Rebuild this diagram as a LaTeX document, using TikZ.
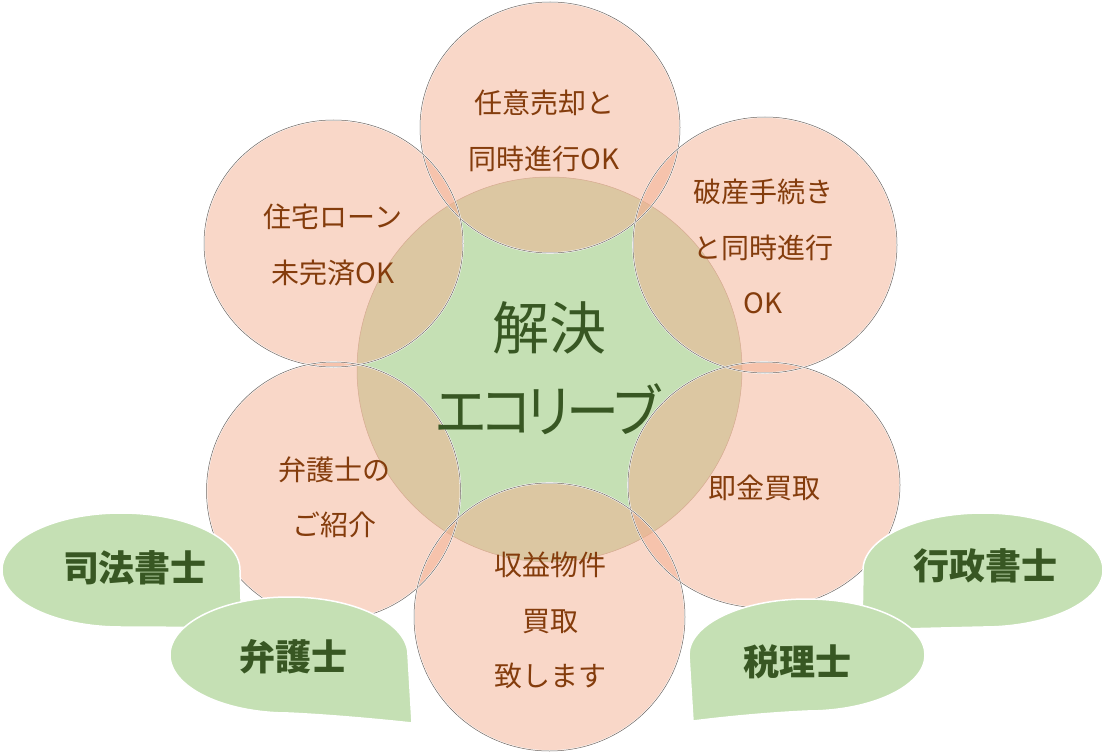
\documentclass[tikz,border=0pt]{standalone}
\usepackage{fontspec}
\newfontfamily\jp{Noto Sans CJK JP}
\definecolor{pinkc}{RGB}{243,175,145}
\definecolor{greenc}{RGB}{197,224,180}
\definecolor{browntxt}{RGB}{132,60,12}
\definecolor{greentxt}{RGB}{56,87,35}
\definecolor{edgec}{RGB}{110,100,95}
\definecolor{centeredge}{RGB}{185,165,145}
\begin{document}
\begin{tikzpicture}[x=1pt,y=-1pt,
  petalfill/.style={fill=pinkc, fill opacity=0.5},
  petaledge/.style={draw=edgec, line width=0.5pt},
  petalglow/.style={draw=white, line width=1.6pt},
  bubble/.style={fill=greenc, draw=white, line width=1.5pt},
  otext/.style={text=browntxt, align=center, inner sep=0pt, font=\jp\fontsize{28}{55.5}\selectfont},
  ctext/.style={text=greentxt, align=center, inner sep=0pt, font=\jp\fontsize{57}{83}\selectfont},
  btext/.style={text=greentxt, inner sep=0pt, font=\jp\bfseries\fontsize{36}{40}\selectfont}]
\useasboundingbox (0,0) rectangle (1104,754);
% centre circle
\path[fill=greenc, draw=centeredge, line width=0.5pt] (549.5,369.5) circle[radius=192.5];
% petals
\foreach \cx/\cy/\rx/\ry in {550/127.5/130/125.5, 333.5/243.5/129.5/123.5, 765/245/132/128, 333.5/491/127/129, 764/485/136/123, 549.5/617/135.5/134}{
  \path[petalfill] (\cx,\cy) ellipse[x radius=\rx, y radius=\ry];
}
\foreach \cx/\cy/\rx/\ry in {550/127.5/130/125.5, 333.5/243.5/129.5/123.5, 765/245/132/128, 333.5/491/127/129, 764/485/136/123, 549.5/617/135.5/134}{
  \path[petalglow] (\cx,\cy) ellipse[x radius=\rx, y radius=\ry];
  \path[petaledge] (\cx,\cy) ellipse[x radius=\rx, y radius=\ry];
}
% texts in circles
\node[ctext] (center) at (549,368.5) {解決\\\scalebox{0.93}[1]{エ\kern-9ptコ\kern-10ptリ\kern-10ptー\kern-10ptブ}};
\node[otext] (top) at (544,131) {任意売却と\\同時進行OK};
\node[otext] (ul) at (333,245) {住宅ローン\\未完済OK};
\node[otext] (ur) at (763,246.5) {破産手続き\\と同時進行\\OK};
\node[otext] (ll) at (334,497.5) {弁護士の\\ご紹介};
\node[otext] (lr) at (764,488) {即金買取};
\node[otext] (bot) at (550,620.5) {収益物件\\買取\\致します};
% bubbles
\path[bubble] (242,628) -- (240,570) arc[start angle=0,end angle=-180,x radius=119,y radius=57] arc[start angle=180,end angle=90,x radius=119,y radius=57] .. controls (170,627) and (210,628) .. (242,628) -- cycle;
\node[btext] (shiho) at (135,568) {司法書士};
\path[bubble] (412,723) -- (408,655) arc[start angle=0,end angle=-180,x radius=119,y radius=58] arc[start angle=180,end angle=90,x radius=119,y radius=58] .. controls (330,715) and (375,719) .. (412,723) -- cycle;
\node[btext] (bengo) at (293,657) {弁護士};
\path[bubble] (862,630) -- (863,570) arc[start angle=180,end angle=360,x radius=120,y radius=57] arc[start angle=0,end angle=90,x radius=120,y radius=57] .. controls (940,628) and (900,629) .. (862,630) -- cycle;
\node[btext] (gyosei) at (985,566) {行政書士};
\path[bubble] (693,721) -- (689,655) arc[start angle=180,end angle=360,x radius=118,y radius=56] arc[start angle=0,end angle=90,x radius=118,y radius=56] .. controls (765,713) and (725,717) .. (693,721) -- cycle;
\node[btext] (zeiri) at (797,662) {税理士};
\end{tikzpicture}
\end{document}
